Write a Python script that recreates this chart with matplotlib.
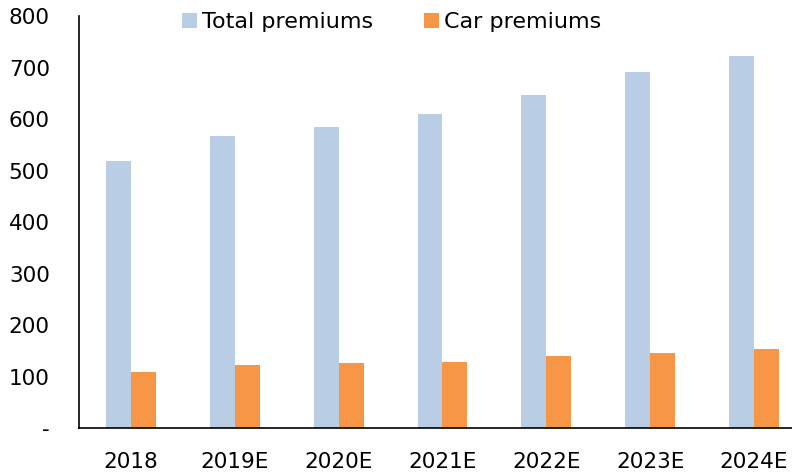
import numpy as np
import matplotlib.pyplot as plt

years = ['2018', '2019E', '2020E', '2021E', '2022E', '2023E', '2024E']
total_premiums = [518, 567, 584, 609, 647, 691, 722]
car_premiums = [109, 122, 126, 129, 139, 146, 153]

plt.rcParams['font.family'] = 'DejaVu Sans'

fig = plt.figure(figsize=(7.92, 4.73), dpi=100)
ax = fig.add_axes([0.0997, 0.095, 0.9003, 0.871])

x = np.arange(len(years))
w = 0.24
ax.bar(x - w / 2, total_premiums, w, color='#B9CDE5', label='Total premiums')
ax.bar(x + w / 2, car_premiums, w, color='#F79646', label='Car premiums')

ax.set_ylim(0, 800)
ax.set_xlim(-0.5, 6.365)
ax.set_yticks(range(0, 801, 100))
ax.set_yticklabels(['-'] + [str(v) for v in range(100, 801, 100)])
ax.set_xticks(x)
ax.set_xticklabels(years)
ax.tick_params(axis='y', length=0, pad=21, labelsize=15.5)
ax.tick_params(axis='x', length=0, pad=17, labelsize=15.5)

for s in ['top', 'right']:
    ax.spines[s].set_visible(False)
for s in ['left', 'bottom']:
    ax.spines[s].set_linewidth(1.2)
    ax.spines[s].set_color('black')

ax.legend(loc='upper left', bbox_to_anchor=(0.116, 1.058), ncol=2, frameon=False,
          fontsize=16, handlelength=0.7, handleheight=0.7, handletextpad=0.2,
          columnspacing=2.3)

fig.savefig('out.png', dpi=100)
